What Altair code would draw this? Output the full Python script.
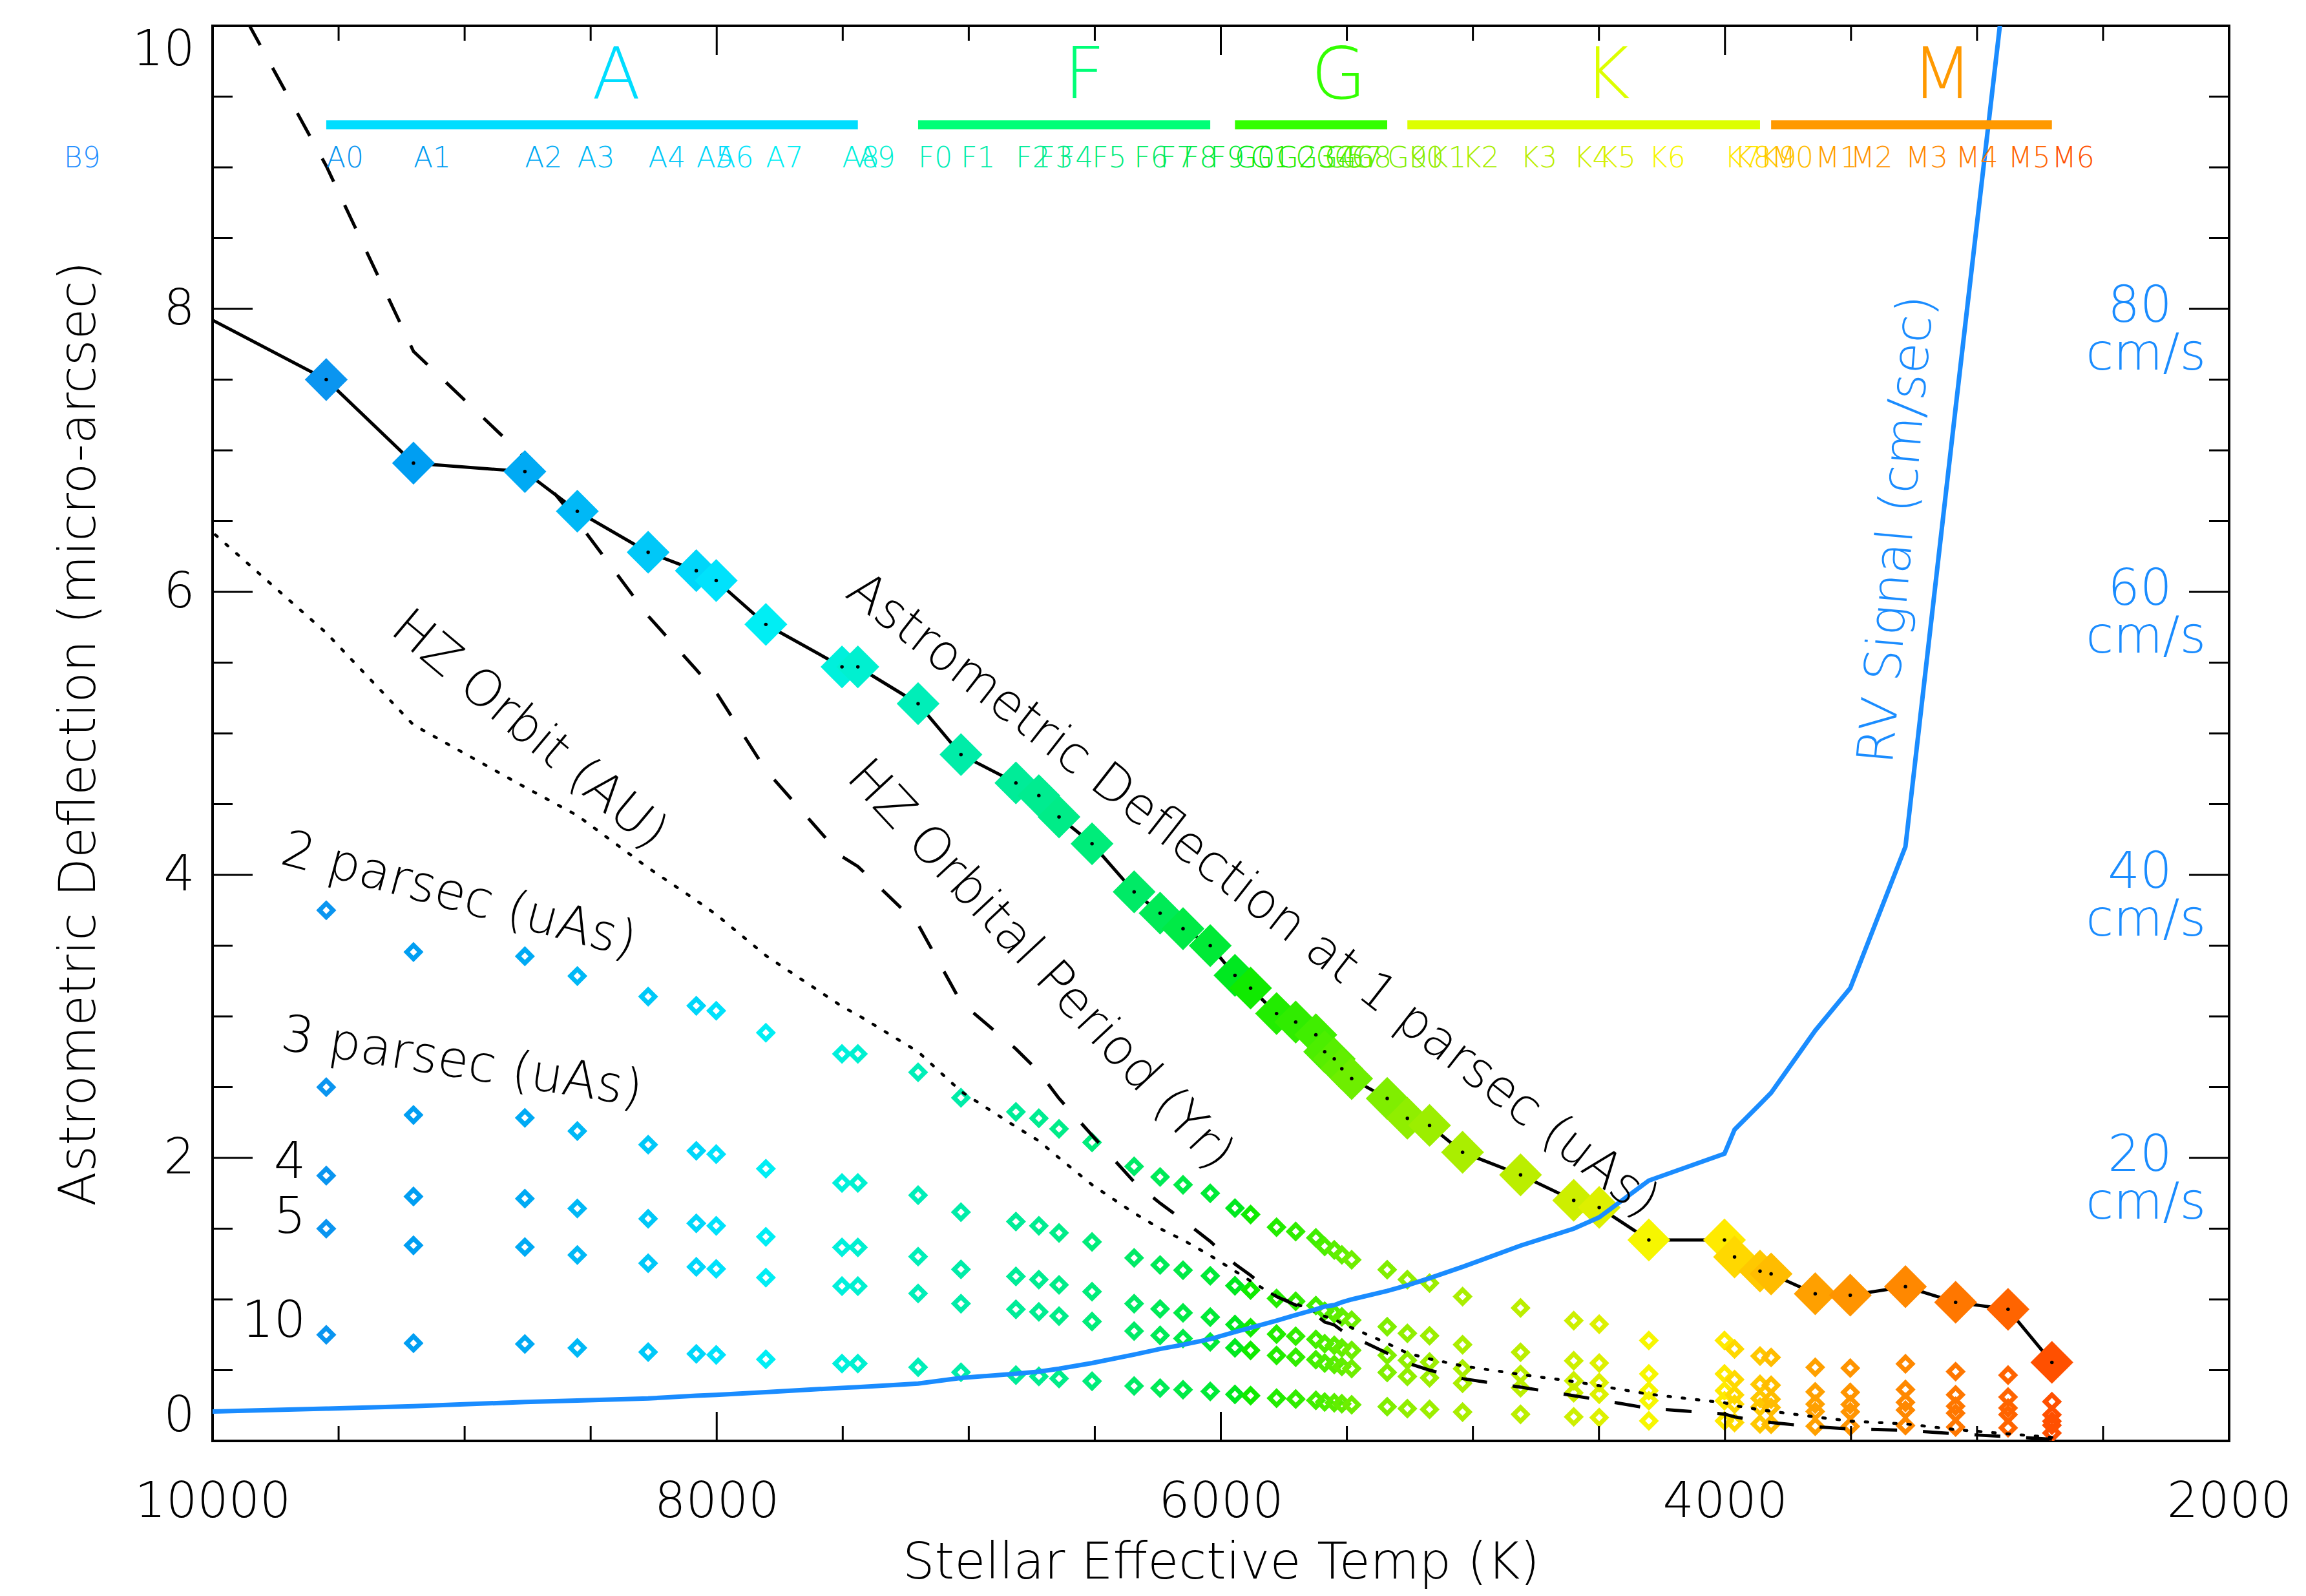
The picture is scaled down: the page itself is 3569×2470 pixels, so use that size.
import altair as alt
import pandas as pd

# ---------------- data ----------------
spectral_types = ["B9",
                  "A0", "A1", "A2", "A3", "A4", "A5", "A6", "A7", "A8", "A9",
                  "F0", "F1", "F2", "F3", "F4", "F5", "F6", "F7", "F8", "F9",
                  "G0", "G1", "G2", "G3", "G4", "G5", "G6", "G7", "G8", "G9",
                  "K0", "K1", "K2", "K3", "K4", "K5", "K6", "K7", "K8", "K9",
                  "M0", "M1", "M2", "M3", "M4", "M5", "M6"]
teff_k = [10590,
          9549, 9203, 8761, 8553, 8272, 8081, 8002, 7805, 7503, 7440,
          7201, 7031, 6813, 6722, 6642, 6511, 6344, 6241, 6150, 6042,
          5944, 5882, 5779, 5703, 5623, 5588, 5550, 5520, 5481, 5340,
          5260, 5172, 5041, 4811, 4600, 4499, 4302, 4002, 3962, 3861,
          3817, 3642, 3503, 3284, 3085, 2877, 2703]
deflection_1pc_uas = [8.47,
                      7.50, 6.91, 6.85, 6.57, 6.28, 6.15, 6.08, 5.77, 5.47, 5.47,
                      5.21, 4.85, 4.65, 4.56, 4.41, 4.22, 3.88, 3.73, 3.62, 3.50,
                      3.29, 3.20, 3.02, 2.96, 2.87, 2.75, 2.70, 2.63, 2.56, 2.42,
                      2.28, 2.23, 2.04, 1.88, 1.70, 1.65, 1.42, 1.42, 1.30, 1.20,
                      1.18, 1.04, 1.03, 1.09, 0.98, 0.93, 0.555]
hz_orbit_au = [7.35,
               5.71, 5.06, 4.62, 4.42, 4.05, 3.82, 3.72, 3.43, 3.07, 3.01,
               2.75, 2.47, 2.22, 2.12, 2.00, 1.81, 1.61, 1.50, 1.42, 1.31,
               1.20, 1.13, 1.02, 0.97, 0.91, 0.88, 0.86, 0.83, 0.80, 0.69,
               0.62, 0.58, 0.53, 0.47, 0.42, 0.39, 0.33, 0.27, 0.25, 0.22,
               0.21, 0.17, 0.14, 0.12, 0.08, 0.05, 0.025]
hz_period_yr = [12.4,
                9.01, 7.70, 6.95, 6.50, 5.83, 5.45, 5.29, 4.74, 4.13, 4.06,
                3.65, 3.10, 2.77, 2.61, 2.42, 2.16, 1.83, 1.68, 1.56, 1.41,
                1.25, 1.17, 1.02, 0.96, 0.89, 0.84, 0.82, 0.78, 0.74, 0.62,
                0.55, 0.50, 0.44, 0.38, 0.32, 0.29, 0.23, 0.19, 0.17, 0.14,
                0.13, 0.10, 0.085, 0.075, 0.05, 0.03, 0.012]
rv_signal_cms = [1.8,
                 2.28, 2.45, 2.75, 2.85, 3.0, 3.2, 3.25, 3.45, 3.75, 3.8,
                 4.05, 4.45, 4.75, 4.9, 5.1, 5.5, 6.1, 6.5, 6.8, 7.2,
                 7.7, 8.0, 8.5, 8.9, 9.3, 9.5, 9.6, 9.8, 10.0, 10.6,
                 11.0, 11.5, 12.3, 13.8, 15.0, 15.8, 18.4, 20.3, 22.0, 23.8,
                 24.6, 29.0, 32.0, 42.0, 73.0, 105.0, 200.0]

classes = ["A", "F", "G", "K", "M"]
class_first = ["A0", "F0", "G0", "K0", "M0"]
class_last = ["A9", "F9", "G9", "K9", "M6"]

distances_pc = [2, 3, 4, 5, 10]
rv_tick_cms = [20, 40, 60, 80]

x_label_values = [10000, 8000, 6000, 4000, 2000]
y_label_values = [0, 2, 4, 6, 8, 10]
x_major_ticks = [4000, 6000, 8000]
x_minor_ticks = [2500, 3000, 3500, 4500, 5000, 5500, 6500, 7000, 7500, 8500, 9000, 9500]
y_major_ticks = [2, 4, 6, 8]
y_minor_ticks = [0.5, 1, 1.5, 2.5, 3, 3.5, 4.5, 5, 5.5, 6.5, 7, 7.5, 8.5, 9, 9.5]

annot_text = ["Astrometric Deflection at 1 parsec (uAs)", "HZ Orbital Period (Yr)",
              "HZ Orbit (AU)", "2 parsec (uAs)", "3 parsec (uAs)"]
dist_label_text = ["4", "5", "10"]

# ---------------- layout / style (kept apart from the data) ----------------
annot_teff = [5875, 6718, 8745, 9023, 9011]
annot_level = [3.85, 3.36, 5.02, 3.85, 2.67]
annot_angle = [38, 47, 40, 15, 9]
dist_label_teff = [9630, 9630, 9630]
dist_label_level = [1.86, 1.47, 0.735]

type_colors = ["#1f8fff",
               "#0a95f0", "#009ef2", "#00aaf4", "#00b8f6", "#00c8f8", "#00d6fa", "#00e2fc", "#00eef4", "#00f0dc", "#00f0d0",
               "#00eeb8", "#00eca8", "#00ec98", "#00ec90", "#00ec88", "#00ec7a", "#00ea66", "#00ea56", "#00ea46", "#00ea36",
               "#00e820", "#10ea00", "#22ec00", "#30ec00", "#40ee00", "#4cee00", "#58ee00", "#62ee00", "#6eee00", "#80ee00",
               "#90ee00", "#9cee00", "#aaee00", "#bbee00", "#cdef00", "#ddf000", "#f6f600", "#ffea00", "#ffd800", "#ffc800",
               "#ffbc00", "#ffa000", "#ff9400", "#ff8800", "#ff7700", "#ff6400", "#ff5000"]
class_colors = ["#00ddff", "#00ff77", "#33ff00", "#ddff00", "#ff9900"]
RV_BLUE = "#1a8cff"
FONT = "DejaVu Sans"
FW = 300

W, H = 3121, 2190

stars = pd.DataFrame({
    "type": spectral_types, "teff": teff_k, "alpha": deflection_1pc_uas,
    "orbit": hz_orbit_au, "period": hz_period_yr, "rv": rv_signal_cms,
})
teff_of = dict(zip(spectral_types, teff_k))
class_df = pd.DataFrame({
    "cls": classes,
    "t0": [teff_of[t] for t in class_first],
    "t1": [teff_of[t] for t in class_last],
})
far = stars.merge(pd.DataFrame({"dist": distances_pc}), how="cross")
annot_df = pd.DataFrame({"text": annot_text, "teff": annot_teff,
                         "level": annot_level, "angle": annot_angle})
dist_df = pd.DataFrame({"text": dist_label_text, "teff": dist_label_teff,
                        "level": dist_label_level})
rv_df = pd.DataFrame({"rv": rv_tick_cms})

xscale = alt.Scale(domain=[2000, 10000], reverse=True, nice=False, zero=False)
yscale = alt.Scale(domain=[0, 10], nice=False, zero=False)
# one shared colour scale for spectral types and spectral classes
cscale = alt.Scale(domain=spectral_types + classes, range=type_colors + class_colors)

xaxis = alt.Axis(values=x_label_values, format="d", title="Stellar Effective Temp (K)",
                 ticks=False, domain=False, grid=False,
                 labelFont=FONT, labelFontSize=76, labelFontWeight=FW, labelColor="black",
                 labelPadding=117, labelBaseline="alphabetic", labelOverlap=False, labelFlush=False,
                 labelLimit=1000,
                 titleFont=FONT, titleFontSize=78, titleFontWeight=FW, titleColor="black",
                 titleX=W / 2, titleY=212, titleAlign="center", titleBaseline="alphabetic",
                 titleLimit=3000)
yaxis = alt.Axis(values=y_label_values, format="d", title="Astrometric Deflection (micro-arcsec)",
                 ticks=False, domain=False, grid=False,
                 labelFont=FONT, labelFontSize=76, labelFontWeight=FW, labelColor="black",
                 labelPadding=28, labelFlush=True, labelOverlap=False, labelLimit=1000,
                 titleFont=FONT, titleFontSize=78, titleFontWeight=FW, titleColor="black",
                 titleAngle=270, titleX=-183, titleY=H / 2, titleAlign="center",
                 titleBaseline="alphabetic", titleLimit=3000)


def X(field=None, datum=None):
    if datum is not None:
        return alt.X(datum=datum, type="quantitative", scale=xscale, axis=xaxis)
    return alt.X(field, type="quantitative", scale=xscale, axis=xaxis)


def Y(field=None, datum=None):
    if datum is not None:
        return alt.Y(datum=datum, type="quantitative", scale=yscale, axis=yaxis)
    return alt.Y(field, type="quantitative", scale=yscale, axis=yaxis)


type_color = alt.Color("type:N", scale=cscale, legend=None)
class_color = alt.Color("cls:N", scale=cscale, legend=None)

# ---------------- frame ticks (inward) ----------------
def xticks(values, length):
    d = pd.DataFrame({"v": values})
    bot = alt.Chart(d).mark_rule(color="black", strokeWidth=3).encode(
        x=X("v"), y=alt.value(H), y2=alt.value(H - length))
    top = alt.Chart(d).mark_rule(color="black", strokeWidth=3).encode(
        x=X("v"), y=alt.value(0), y2=alt.value(length))
    return [bot, top]


def yticks(values, length):
    d = pd.DataFrame({"v": values})
    left = alt.Chart(d).mark_rule(color="black", strokeWidth=3).encode(
        y=Y("v"), x=alt.value(0), x2=alt.value(length))
    right = alt.Chart(d).mark_rule(color="black", strokeWidth=3).encode(
        y=Y("v"), x=alt.value(W), x2=alt.value(W - length))
    return [left, right]


tick_layers = (xticks(x_major_ticks, 45) + xticks(x_minor_ticks, 23)
               + yticks(y_major_ticks, 62) + yticks(y_minor_ticks, 31))

# ---------------- data layers ----------------
small_diamonds = alt.Chart(far).transform_calculate(
    val="datum.alpha / datum.dist"
).mark_point(shape="diamond", filled=False, size=450, strokeWidth=7, opacity=1, clip=True).encode(
    x=X("teff"), y=Y("val"), color=type_color)

orbit_line = alt.Chart(stars).mark_line(color="black", strokeWidth=4.5, strokeDash=[4, 18],
                                        strokeCap="round", clip=True).encode(
    x=X("teff"), y=Y("orbit"), order="teff:Q")
period_line = alt.Chart(stars).mark_line(color="black", strokeWidth=5, strokeDash=[40, 40],
                                         clip=True).encode(
    x=X("teff"), y=Y("period"), order="teff:Q")
main_line = alt.Chart(stars).mark_line(color="black", strokeWidth=5, clip=True).encode(
    x=X("teff"), y=Y("alpha"), order="teff:Q")
big_diamonds = alt.Chart(stars).mark_point(shape="diamond", filled=True, size=4400, opacity=1,
                                           clip=True).encode(
    x=X("teff"), y=Y("alpha"), color=type_color)
center_dots = alt.Chart(stars).mark_circle(color="black", size=30, opacity=1, clip=True).encode(
    x=X("teff"), y=Y("alpha"))
rv_line = alt.Chart(stars).transform_calculate(
    rv_level="datum.rv / 10"
).mark_line(color=RV_BLUE, strokeWidth=7, clip=True).encode(
    x=X("teff"), y=Y("rv_level"), order="teff:Q")

# ---------------- spectral class bars and labels ----------------
class_bars = alt.Chart(class_df).mark_rule(strokeWidth=14, strokeCap="butt").encode(
    x=X("t0"), x2="t1:Q", y=Y(datum=9.30), color=class_color)
class_letters = alt.Chart(class_df).transform_calculate(
    mid="(datum.t0 + datum.t1) / 2"
).mark_text(font=FONT, fontSize=110, fontWeight=FW, align="left", baseline="alphabetic").encode(
    x=X("mid"), y=Y(datum=9.49), text="cls:N", color=class_color)
type_labels = alt.Chart(stars).mark_text(font=FONT, fontSize=44, fontWeight=FW, align="left",
                                         baseline="alphabetic").encode(
    x=X("teff"), y=Y(datum=9.0), text="type:N", color=type_color)

# ---------------- annotations ----------------
annotations = alt.Chart(annot_df).mark_text(font=FONT, fontSize=78, fontWeight=FW, color="black",
                                            align="center", baseline="middle").encode(
    x=X("teff"), y=Y("level"), text="text:N", angle=alt.Angle("angle:Q", scale=None))
dist_labels = alt.Chart(dist_df).mark_text(font=FONT, fontSize=78, fontWeight=FW, color="black",
                                           align="right", baseline="alphabetic").encode(
    x=X("teff"), y=Y("level"), text="text:N")
rv_title = alt.Chart(pd.DataFrame({"t": ["RV Signal (cm/sec)"]})).mark_text(
    font=FONT, fontSize=78, fontWeight=FW, color=RV_BLUE, align="center", baseline="middle",
    angle=275).encode(x=X(datum=3314), y=Y(datum=6.44), text="t:N")
rv_numbers = alt.Chart(rv_df).transform_calculate(
    lvl="datum.rv / 10"
).mark_text(font=FONT, fontSize=78, fontWeight=FW, color=RV_BLUE, align="center",
            baseline="alphabetic", dy=20).encode(
    x=X(datum=2354), y=Y("lvl"), text="rv:N")
rv_units = alt.Chart(rv_df).transform_calculate(
    lvl="datum.rv / 10", unit="'cm/s'"
).mark_text(font=FONT, fontSize=78, fontWeight=FW, color=RV_BLUE, align="center",
            baseline="alphabetic", dy=94).encode(
    x=X(datum=2330), y=Y("lvl"), text="unit:N")

layers = ([small_diamonds, orbit_line, period_line, main_line, big_diamonds, center_dots, rv_line]
          + tick_layers
          + [class_bars, class_letters, type_labels, annotations, dist_labels,
             rv_title, rv_numbers, rv_units])

chart = alt.layer(*layers).properties(
    width=W, height=H,
    autosize=alt.AutoSizeParams(type="none"),
    padding={"left": 321, "top": 32, "right": 111, "bottom": 232},
    background="white",
).configure_view(stroke="black", strokeWidth=4)

chart.save("out.html", embed_options={"renderer": "svg", "actions": False})
